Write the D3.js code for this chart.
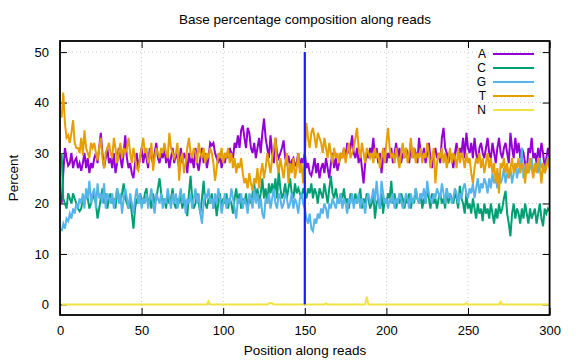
<!DOCTYPE html>
<html><head><meta charset="utf-8">
<script src="https://cdn.jsdelivr.net/npm/d3@7"></script>
<style>body{margin:0;background:#fff}text{font-family:"Liberation Sans",Arial,sans-serif}</style>
</head><body><svg id="c" width="576" height="360"></svg>
<script>
const bases = ["A","C","G","T","N"];
const colors = ["#9400d3","#009e73","#56b4e9","#e69f00","#f0e442"];
const xTicks = [0,50,100,150,200,250,300];
const yTicks = [0,10,20,30,40,50];
const splitPos = 150;

const seriesA = [
20,26,31,29,27.5,28,30,27,28.5,29, 27,28,26.5,28,30,27,29,26,28,27,
29,30,28,31,34,30,27,29,31,28, 29,27,30,26,28,31,29,27,30,33.5,
29,27,28,26,25,28,30,27,29,31, 28,30,29,27,31,29,28,30,32,29,
28,30,29,31,28,30,27,29,31,28, 30,29,27,31,28,30,29,26,30,28,
29,27,31,28,26.5,29,31,28,30,27, 29,32,31.5,32,30,29,28,30,27,29,
28,30,29,31,30,29,32,31,33.5,31, 34.5,35.5,33,31,35,34,31,30,32,29,
31,33,30,34,36.8,33,31,29,33.5,30, 28,33,30,29,30,31,32.5,29,28,29.5,
27,28.5,29,27.5,28,30,27,29,28,30,
27,28,26,25.5,27,29,26,28,25,27, 28,26,29,27,25,28,30,27,29,26.5,
28,30,29,31,29,32,30,31,33.5,30, 29,31,28,30,27,24,28,30,29,31,
30,33,29,31,28,30,26,29,31,28, 30,29,31,28,30,32,29,31,28,30,
29,31,30,28,32,29,31,30,28,33, 30,29,31,28,30,32,29,27,30,31,
29,30,28,33,35,31,30,28,30,29, 27,30,32,29,31,30,33,29,34,31,
30,32,29,33,30,28,31,32,30,29, 31,33,30,29,32,30,28,31,33,30,
29,31,32,30,28,34,31,29,33,30, 32,29,31,30,28,26,31,30,33,29,
30,28,31,29,32,30,27,29,31,29];

const seriesC = [
30,21,20,19,22,21,20,22,21,20, 19,18.5,19,21,20,22,21,19,20,22,
21,20,17,19,21,23,20,22,19,21, 22,20,21,19,23,21,20,22,24,21,
20,19,21,18,15,19,21,20,22,21, 20,22,23,20,21,19,22,20,21,23,
25,22,20,21,19,22,20,21,23,20, 19,21,20,22,19,21,20,17.5,22,25.5,
21,19,20,22,20,18,21,24.5,20,19, 21,20,22,19,21,17.5,20,22,19,21,
20,22,19,21,20,18,21,23,20,22, 19,21,20,22,19,21,20,22,24,21,
23,20,22,25,21,23,20,24,22,24, 22,25,21,26.5,23,21,22,24,21,23,
25,22,21,24,22,23,22,21,23,22,
21,23,22,24,21,23,22,20,23,22, 21,24,22,20,23,25.5,22,21,23,21,
20,22,21,23,20,21,19,22,21,20, 22,20,21,23,19,21,20,22,21,19,
20,22,17,20,21,19,22,18,21,20, 22,21,24.5,20,22,19,21,20,22,21,
19,21,20,22,19,21,20,23,21,20, 22,19,21,20,23,21,19,22,20,21,
19,21,22,20,21,19,23,20,22,21, 20,22,21,19,23.5,21,20,18,22,19,
20,18,21,19,17,20,18,19,16.5,20, 18,19,17,20,18,16,19,17,20,18,
19,21,22.5,18,16,13.5,18,20,17,19, 18,16,19,17,20,18,16,19,17,18,
19,16,18,20,17,15.5,19,18,19,18.5];

const seriesG = [
14.5,16,15,17,16.5,18,17,19,18,20, 19,21,20,22,19,23,21,24.5,20,22,
23,19,24,21,22,20,24,19,22,21, 20,22,19,21,23,20,22,18,21,23,
21,19,22,20,18,21,23,20,22,19, 21,20,22,19,21,23,20,18,22,21,
20,22,19,21,20,23,21,19,22,20, 22,19,21,23,20,22,18,21,20,22,
19,21,23,20,22,18,16,20,22,21, 23,20,21,19,22,20,23,21,18,20,
22,19,21,20,23,21,19,17,21,20, 22,19,21,20,18,22,21,19,23,20,
22,19,21,18,17,21,20,22,19,21, 23,20,19,22,21,19,20,22,21,19,
20,22,19,21,20,18,21,22,20,19,
17,16,18,15,14.5,17,16,18,17,19, 18,20,19,17,20,19,21,20,19,21,
20,22,19,21,20,18,21,20,22,19, 21,20,22,19,21,20,18,21,22,20,
21,23,20,24.5,21,19,24.5,22,20,21, 19,21,20,22,19,21,20,22,21,19,
20,22,21,19,22,20,21,23,21,20, 22,21,23,20,24.5,22,21,20,22,21,
23,22,21,24,22,20,23,21,22,20, 21,23,22,20,22,21,23,24,22,21,
23,22,24,21,23,25,22,24,23,25, 24,22,25,23,26,24,25,23,26,24,
25,27,24,26,25,27,24,26,28,25, 27,26,31,25,27,28,26,27,29,26,
27,28,26,29,27,28,26,28,29,28];

const seriesT = [
37,42,36,33,33.5,32,34,36.5,32,31, 31,30,33,29.5,34.5,31,30,29,32,31,
32,30,28.5,31,33,29,27,30,31,32, 30,29,33,31,28,30,32,29,31,30,
31,33,30,28,31,29,27,26.5,29,31, 33,30,31,28,29,32,26.5,29,31,30,
29,31,30,32,30,29,34,31,30,29, 30,32,24.5,29,30,26,28,31,33,30,
29,31,30,28,32,30,29,31,28,30, 29,31,30,28,24.5,27,30,29,31,28,
30,29,31,28,30,27,29,26,28,27, 29,26,24,25,23,26,24,22.5,25,24,
27,23,26,28,25,27,30,28,26,29, 31,33,28,26,29,27,25,28,30,24,
28,26,29,25,27,30,26,28,24,29,
36,33,31,34,35,33,31,34,33,32, 30,33,31,29,32,30,28,31,29,30,
28,30,29,31,28,30,32,29,30,31, 33,35,31,29,32,30,28,31,30,29,
30,28,31,29,30,27,29,31,28,32, 35,31,29,30,28,31,29,27,30,32,
29,31,28,30,33,29,31,28,30,29, 31,28,30,29,32,30,27,29,31,24,
28,30,29,31,28,30,27,29,31,28, 30,29,27,31,28,30,29,27,30,28,
29,26,24,27,29,28,30,27,29,26, 28,30,27,29,26,28,24,27,22,28,
27,29,26,28,25,27,29,26,28,27, 29,26,28,27,24,28,26,29,27,25,
28,26,29,27,24,28,26,27,29,27];

// N: near zero except small bumps (position, value)
const nBumps = [[91,0.6],[128,0.25],[129,0.3],[130,0.25],[163,0.2],[188,1.5],[249,0.25],[270,0.5]];
const seriesN = d3.range(1,301).map(p => { const b = nBumps.find(d => d[0]===p); return b ? b[1] : 0; });

const positions = d3.range(1,301);
const allSeries = [seriesA, seriesC, seriesG, seriesT, seriesN];

const svg = d3.select("#c");
const L = 60, R = 549.6, T = 41, B = 315;
const x = d3.scaleLinear().domain([0,300]).range([L,R]);
const y = d3.scaleLinear().domain([-2.1,52.2]).range([B,T]);

// grid
const g = svg.append("g");
g.selectAll(".gx").data(xTicks.slice(1,-1)).join("line")
  .attr("x1",d=>x(d)).attr("x2",d=>x(d)).attr("y1",T).attr("y2",B)
  .attr("stroke","#c8c8c8").attr("stroke-width",1).attr("stroke-dasharray","1,3");
g.selectAll(".gy").data(yTicks).join("line")
  .attr("x1",L).attr("x2",R).attr("y1",d=>y(d)).attr("y2",d=>y(d))
  .attr("stroke","#c8c8c8").attr("stroke-width",1).attr("stroke-dasharray","1,3");

// axes
const ax = svg.append("g").attr("transform",`translate(0,${B})`)
  .call(d3.axisBottom(x).tickValues(xTicks).tickSize(-7).tickPadding(11));
const axT = svg.append("g").attr("transform",`translate(0,${T})`)
  .call(d3.axisTop(x).tickValues(xTicks).tickSize(-7).tickFormat(""));
const ay = svg.append("g").attr("transform",`translate(${L},0)`)
  .call(d3.axisLeft(y).tickValues(yTicks).tickSize(-7).tickPadding(11));
const ayR = svg.append("g").attr("transform",`translate(${R},0)`)
  .call(d3.axisRight(y).tickValues(yTicks).tickSize(-7).tickFormat(""));
[ax,axT,ay,ayR].forEach(a=>{
  a.select(".domain").remove();
  a.selectAll("line").attr("stroke","#000").attr("stroke-width",1);
  a.selectAll("text").attr("font-size",13).attr("fill","#000").style("font-family",'"Liberation Sans",Arial,sans-serif');
});

// series lines
const line = d3.line().x((d,i)=>x(positions[i])).y(d=>y(d));
svg.append("clipPath").attr("id","pc").append("rect").attr("x",L).attr("y",T).attr("width",R-L).attr("height",B-T);
const lg = svg.append("g").attr("clip-path","url(#pc)");
allSeries.forEach((s,k)=>{
  lg.append("path").datum(s).attr("d",line).attr("fill","none")
    .attr("stroke",colors[k]).attr("stroke-width",2).attr("stroke-linejoin","miter");
});

// split marker
svg.append("line").attr("x1",x(splitPos)).attr("x2",x(splitPos)).attr("y1",y(0)).attr("y2",y(50))
  .attr("stroke","#1a1aff").attr("stroke-width",2.2);

// frame
svg.append("rect").attr("x",L).attr("y",T).attr("width",R-L).attr("height",B-T)
  .attr("fill","none").attr("stroke","#000").attr("stroke-width",1.8);

// legend
const leg = svg.append("g");
bases.forEach((b,i)=>{
  const yy = 54 + i*14;
  leg.append("text").attr("x",486).attr("y",yy).attr("dy","0.36em").attr("text-anchor","end")
    .attr("font-size",12).text(b);
  leg.append("line").attr("x1",493).attr("x2",534).attr("y1",yy).attr("y2",yy)
    .attr("stroke",colors[i]).attr("stroke-width",2);
});

// titles
svg.append("text").attr("x",305).attr("y",24).attr("text-anchor","middle").attr("font-size",13.5)
  .text("Base percentage composition along reads");
svg.append("text").attr("x",305).attr("y",355).attr("text-anchor","middle").attr("font-size",13.5)
  .text("Position along reads");
svg.append("text").attr("transform","translate(18,178) rotate(-90)").attr("text-anchor","middle").attr("font-size",13.5)
  .text("Percent");
</script></body></html>
